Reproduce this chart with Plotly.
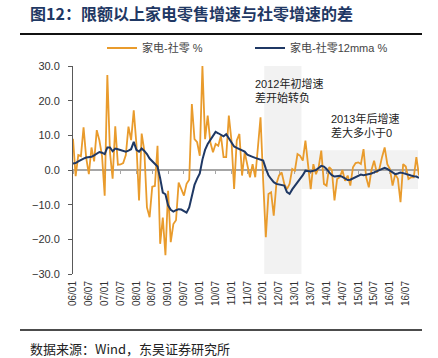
import plotly.graph_objects as go

# ---------------- data ----------------
years = list(range(2006, 2017))
months = [f"{y % 100:02d}/{m:02d}" for y in years for m in range(1, 13)]  # 06/01 ... 16/12

appliance_minus_retail = [
    9.0, -1.8, 4.3, 4.0, 12.3, 3.5, -1.2, 6.5, 2.5, 11.5,
    8.5, 4.0, -7.4, 27.4, 5.0, -2.5, 12.6, 1.5, 1.6, 2.0,
    4.3, 12.5, 8.6, 17.2, 7.5, -8.8, 10.5, 5.6, -10.8, -13.6,
    -4.8, -4.6, 7.0, -21.3, -13.7, -24.6, -6.0, -20.8, -15.6, -14.5,
    -3.6, -5.5, -7.4, -4.0, -2.8, 19.0, 8.9, 8.0, 4.1, 30.0,
    8.9, 15.7, 8.0, 5.1, 7.5, 7.0, 9.9, 3.7, 3.7, 15.7,
    8.5, -5.5, 8.5, 10.4, -1.6, 5.1, 1.5, -2.1, 1.7, -2.1,
    6.5, 15.2, -3.1, -19.4, -6.9, -6.4, -13.2, -4.0, -1.6, -0.7,
    -4.0, -5.5, -4.0, 0.3, -0.2, 4.6, 4.1, 2.7, 8.5, 0.8,
    -5.5, 1.7, -1.2, 0.8, 5.6, -4.0, -4.5, 0.8, 0.0, -8.8,
    -2.6, -2.1, 0.0, -3.1, -1.6, -4.5, 0.8, 2.0, 2.2, 1.7,
    6.0, -2.1, -5.0, 0.0, 2.7, -0.7, 0.3, 3.7, 6.5, 1.7,
    0.3, -4.5, -1.2, -2.5, -9.3, 1.7, 1.0, -2.6, -2.1, -2.1,
    3.7, -1.6,
]

appliance_minus_retail_12mma = [
    1.9, 2.0, 2.5, 3.0, 3.3, 3.6, 3.7, 3.8, 4.2, 4.6,
    5.2, 5.0, 4.6, 6.5, 6.5, 5.4, 6.2, 6.0, 5.8, 5.6,
    5.3, 5.6, 6.0, 8.1, 5.8, 5.3, 6.2, 5.5, 4.6, 3.3,
    2.5, 1.8, 1.0, -2.4, -6.5, -7.0, -10.2, -11.5, -12.0, -11.6,
    -11.3, -11.4, -11.8, -12.3, -10.8, -7.2, -4.3, -2.5, -1.0, 3.0,
    5.8, 7.5, 8.6, 10.0, 11.0, 10.6, 10.1, 9.7, 10.3, 9.0,
    7.9, 6.8, 6.4, 6.1, 5.8, 5.3, 4.4, 4.0, 3.8, 3.5,
    3.2, 3.0, 2.7, 0.4, -1.5, -2.6, -3.5, -4.0, -4.1, -4.2,
    -4.5, -6.4, -6.9, -5.6, -4.6, -3.6, -2.8, -1.5, -0.2, -0.3,
    -0.4, -0.2, 0.0, 0.6, 1.2, 1.0, 0.3, -0.7, -1.5, -1.9,
    -1.9, -1.7, -2.0, -2.5, -2.9, -2.8, -2.4, -2.0, -1.7, -1.3,
    -1.5, -1.4, -1.2, -1.0, -0.7, -0.4, 0.0, 0.3, 0.6, 0.3,
    -0.2, -0.7, -1.2, -1.0, -0.7, -0.9, -1.2, -1.4, -1.6, -1.8,
    -1.9, -2.3,
]

tick_idx = [i for i in range(len(months)) if i % 6 == 0]
tick_labels = [months[i] for i in tick_idx]
y_ticks = [-30, -20, -10, 0, 10, 20, 30]

series_names = ["家电-社零 %", "家电-社零12mma %"]
title_text = "图12：限额以上家电零售增速与社零增速的差"
source_text = "数据来源：Wind，东吴证券研究所"
note1 = "2012年初增速<br>差开始转负"
note2 = "2013年后增速<br>差大多小于0"

# highlighted regions (month-index units / value units)
shade1 = dict(x0=72.4, x1=86.5, y0=-30, y1=30)
shade2 = dict(x0=86.5, x1=130.6, y0=-5.5, y1=5.7)

assert len(appliance_minus_retail) == len(months)
assert len(appliance_minus_retail_12mma) == len(months)

# ---------------- figure ----------------
W, H = 438, 358
PLOT_L, PLOT_R, PLOT_T, PLOT_B = 73, 419, 66, 274   # plot-area pixel box
Y_MIN, Y_MAX = -30, 30


def px(xp):
    return xp / W


def py(yp):
    return 1 - yp / H


x_domain = [px(PLOT_L), px(PLOT_R)]
y_domain = [py(PLOT_B), py(PLOT_T)]
zero_pos = y_domain[0] + (0 - Y_MIN) / (Y_MAX - Y_MIN) * (y_domain[1] - y_domain[0])
rule_x_domain = [px(20), px(422)]
rule_span = [0, 1]          # a rule runs across the whole of its own (hidden) axis
rule_level = [0, 0]

ORANGE = "#E99B2C"
NAVY = "#1F3864"
FONT = "Liberation Sans, Noto Sans CJK SC, sans-serif"
CJK = "Noto Sans CJK SC, sans-serif"

x = list(range(len(months)))
fig = go.Figure()
fig.add_trace(go.Scatter(x=x, y=appliance_minus_retail, mode="lines",
                         name=series_names[0], line=dict(color=ORANGE, width=1.8)))
fig.add_trace(go.Scatter(x=x, y=appliance_minus_retail_12mma, mode="lines", xaxis="x2",
                         name=series_names[1], line=dict(color=NAVY, width=2)))
# decorative rules under the title and above the source, each on its own hidden axes
fig.add_trace(go.Scatter(x=rule_span, y=rule_level, xaxis="x3", yaxis="y3", mode="lines",
                         line=dict(color="#111111", width=2), showlegend=False,
                         hoverinfo="skip", cliponaxis=False))
fig.add_trace(go.Scatter(x=rule_span, y=rule_level, xaxis="x4", yaxis="y4", mode="lines",
                         line=dict(color="#111111", width=1.5), showlegend=False,
                         hoverinfo="skip", cliponaxis=False))

for s in (shade1, shade2):
    fig.add_shape(type="rect", xref="x", yref="y", layer="below",
                  fillcolor="#F2F2F2", line=dict(width=0), **s)

fig.add_annotation(xref="paper", yref="paper", x=px(28), y=py(13), xanchor="left",
                   yanchor="middle", showarrow=False, text="<b>" + title_text + "</b>",
                   font=dict(family=CJK, size=16, color="#1F3864"))
fig.add_annotation(xref="paper", yref="paper", x=px(28), y=py(348), xanchor="left",
                   yanchor="middle", showarrow=False, text=source_text,
                   font=dict(family=CJK, size=13, color="#222222"))
fig.add_annotation(xref="paper", yref="paper", x=px(253), y=py(75), xanchor="left",
                   yanchor="top", showarrow=False, text=note1, align="left",
                   font=dict(family=FONT, size=11, color="#222222"))
fig.add_annotation(xref="paper", yref="paper", x=px(329), y=py(110), xanchor="left",
                   yanchor="top", showarrow=False, text=note2, align="left",
                   font=dict(family=FONT, size=11, color="#222222"))

hidden_x = dict(domain=rule_x_domain, visible=False, showgrid=False, zeroline=False,
                automargin=False, fixedrange=True, range=rule_span)
hidden_y = dict(visible=False, showgrid=False, zeroline=False, automargin=False,
                fixedrange=True, range=[-1, 1])

xr = [0, len(months) - 1]
fig.update_layout(
    width=W, height=H,
    margin=dict(l=0, r=0, t=0, b=0, pad=0),
    paper_bgcolor="white", plot_bgcolor="rgba(0,0,0,0)",
    font=dict(family=FONT, size=11, color="#333333"),
    showlegend=True,
    legend=dict(orientation="h", x=px(102), y=py(48), xanchor="left", yanchor="middle",
                bgcolor="rgba(0,0,0,0)", font=dict(family=FONT, size=11, color="#444444"),
                entrywidth=103, entrywidthmode="pixels", tracegroupgap=0),
    xaxis=dict(domain=x_domain, range=xr, anchor="free", position=zero_pos, showline=True,
               linecolor="#A6A6A6", linewidth=2, ticks="outside", ticklen=3,
               tickcolor="#A6A6A6", tickwidth=1, tickvals=tick_idx, showticklabels=False,
               showgrid=False, zeroline=False, layer="below traces", automargin=False),
    xaxis2=dict(domain=x_domain, range=xr, overlaying="x", anchor="y", side="bottom",
                showline=False, ticks="", tickvals=tick_idx, ticktext=tick_labels,
                tickangle=-90, showgrid=False, zeroline=False, ticklabelstandoff=4,
                automargin=False, tickfont=dict(family=FONT, size=10, color="#333333")),
    yaxis=dict(domain=y_domain, range=[Y_MIN, Y_MAX], tickvals=y_ticks, tickformat=".1f",
               showline=True, linecolor="#595959", linewidth=1, ticks="outside", ticklen=4,
               tickcolor="#595959", showgrid=False, zeroline=False, ticklabelstandoff=6,
               automargin=False, tickfont=dict(family=FONT, size=11, color="#333333")),
    xaxis3=dict(anchor="y3", **hidden_x),
    yaxis3=dict(anchor="x3", domain=[py(37), py(31)], **hidden_y),
    xaxis4=dict(anchor="y4", **hidden_x),
    yaxis4=dict(anchor="x4", domain=[py(333), py(327)], **hidden_y),
)

fig.write_html("out.html", post_script="document.body.style.margin='0';",
               config={"displayModeBar": False})
